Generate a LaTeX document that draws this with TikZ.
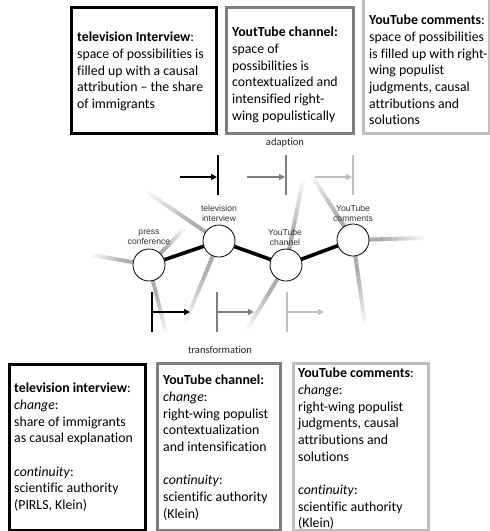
\documentclass[tikz,border=0pt]{standalone}
\usepackage{fontspec}
\setmainfont{Carlito}[Ligatures={TeX,NoCommon}]
\newfontfamily\arialf{Liberation Sans}
\usetikzlibrary{arrows.meta,calc,backgrounds}
\definecolor{cA}{HTML}{000000}
\definecolor{cB}{HTML}{7F7F7F}
\definecolor{cC}{HTML}{BFBFBF}
\definecolor{rayc}{HTML}{ABABAB}
\newcommand\fadeRay[2]{%
  \coordinate (rs) at ($(#1)!15pt!(#2)$);%
  \foreach \k in {0,...,15}{%
    \pgfmathsetmacro\op{min(1,1.25*(1-\k/16))}%
    \pgfmathsetmacro\fa{\k/16}%
    \pgfmathsetmacro\fb{(\k+1)/16}%
    \draw[raystyle, draw opacity=\op] ($(rs)!\fa!(#2)$) -- ($(rs)!\fb!(#2)$);}%
}
\tikzset{
  raystyle/.style={line width=4, rayc, line cap=butt},
  boxA/.style={draw=cA, line width=3, anchor=north west, inner sep=0, minimum width=#1},
  boxB/.style={draw=cB, line width=3, anchor=north west, inner sep=0},
  boxC/.style={draw=cC, line width=2.6, anchor=north west, inner sep=0},
  btext/.style={anchor=north west, inner sep=0, align=left, font=\fontsize{13.8}{16.7}\selectfont},
  station/.style={circle, draw, fill=white, minimum size=32, inner sep=0, line width=0.8},
  slabel/.style={align=center, inner sep=0, text=black!80, font=\arialf\fontsize{8.6}{10}\selectfont},
  flow/.style={line width=3.6, black},
  arrA/.style={line width=2, cA, -{Triangle[length=6,width=6]}},
  arrB/.style={line width=2, cB, -{Triangle[length=6,width=6]}},
  arrC/.style={line width=2, cC, -{Triangle[length=6,width=6]}},
  barA/.style={line width=2, cA},
  barB/.style={line width=2, cB},
  barC/.style={line width=2, cC},
  caption/.style={inner sep=0, text=black!85, font=\fontsize{10.5}{12}\selectfont}
}
\begin{document}
\begin{tikzpicture}[x=1pt,y=-1pt]
\useasboundingbox (0,0) rectangle (490,531);
% top boxes
\node[boxA=145, minimum height=126] (TB1) at (70,6) {};
\node[boxB, minimum width=127, minimum height=126] (TB2) at (225,6) {};
\node[boxC, minimum width=126, minimum height=137] (TB3) at (362,-5) {};
\node[btext] (TT1) at (77,29.8) {\strut\textbf{television Interview}:\\ space of possibilities is\\ filled up with a causal\\ attribution – the share\\ of immigrants};
\node[btext] (TT2) at (232,24.8) {\strut\textbf{YoutTube channel:}\\ space of\\ possibilities is\\ contextualized and\\ intensified right-\\ wing populistically};
\node[btext] (TT3) at (369,12.8) {\strut\textbf{YouTube comments}:\\ space of possibilities\\ is filled up with right-\\ wing populist\\ judgments, causal\\ attributions and\\ solutions};
% captions
\node[caption] (adap) at (285,143) {adaption};
\node[caption] (trans) at (220,350) {transformation};
% stations
\node[station] (pc) at (149,265) {};
\node[station] (tv) at (219,241) {};
\node[station] (yc) at (286,265) {};
\node[station] (ym) at (353,240) {};
% ray ends
\coordinate (r1) at (92,255);
\coordinate (r2) at (184,229);
\coordinate (r3) at (166,333);
\coordinate (r4) at (147,192);
\coordinate (r5) at (185,323);
\coordinate (r6) at (303,180);
\coordinate (r7) at (247,329);
\coordinate (r8) at (312,176);
\coordinate (r9) at (424,238);
\coordinate (r10) at (365,324);
\begin{scope}[on background layer]
\fill[white] (0,0) rectangle (490,531);
\fadeRay{pc}{r1}
\fadeRay{pc}{r2}
\fadeRay{pc}{r3}
\fadeRay{tv}{r4}
\fadeRay{tv}{r5}
\fadeRay{yc}{r6}
\fadeRay{yc}{r7}
\fadeRay{ym}{r8}
\fadeRay{ym}{r9}
\fadeRay{ym}{r10}
\end{scope}
\node[slabel] (pcl) at (149,237) {press\\conference};
\node[slabel] (tvl) at (219,213) {television\\interview};
\node[slabel] (ycl) at (285,237) {YouTube\\channel};
\node[slabel] (yml) at (353,213) {YouTube\\comments};
\draw[flow] (pc) -- (tv);
\draw[flow] (tv) -- (yc);
\draw[flow] (yc) -- (ym);
% top arrows
\coordinate (a1s) at (180,177); \coordinate (a1e) at (217,177);
\coordinate (a1t) at (218,155); \coordinate (a1b) at (218,195);
\coordinate (a2s) at (247,177); \coordinate (a2e) at (285,177);
\coordinate (a2t) at (286,155); \coordinate (a2b) at (286,195);
\coordinate (a3s) at (315,177); \coordinate (a3e) at (352,177);
\coordinate (a3t) at (353,155); \coordinate (a3b) at (353,195);
\draw[barA] (a1t) -- (a1b);
\draw[barB] (a2t) -- (a2b);
\draw[barC] (a3t) -- (a3b);
\draw[arrA] (a1s) -- (a1e);
\draw[arrB] (a2s) -- (a2e);
\draw[arrC] (a3s) -- (a3e);
% bottom arrows
\coordinate (b1t) at (152,292); \coordinate (b1b) at (152,332);
\coordinate (b1s) at (152,312); \coordinate (b1e) at (190,312);
\coordinate (b2t) at (217,292); \coordinate (b2b) at (217,332);
\coordinate (b2s) at (217,312); \coordinate (b2e) at (254,312);
\coordinate (b3t) at (287,292); \coordinate (b3b) at (287,332);
\coordinate (b3s) at (287,312); \coordinate (b3e) at (324,312);
\draw[barA] (b1t) -- (b1b);
\draw[barB] (b2t) -- (b2b);
\draw[barC] (b3t) -- (b3b);
\draw[arrA] (b1s) -- (b1e);
\draw[arrB] (b2s) -- (b2e);
\draw[arrC] (b3s) -- (b3e);
% bottom boxes
\node[boxA=136, minimum height=166] (BB1) at (8,363) {};
\node[boxB, minimum width=123, minimum height=167] (BB2) at (156,362) {};
\node[boxC, minimum width=135, minimum height=167] (BB3) at (292,362) {};
\node[btext] (BT1) at (14,380.8) {\strut\textbf{television interview}:\\ \textit{change}:\\ share of immigrants\\ as causal explanation\\ ~\\ \textit{continuity}:\\ scientific authority\\ (PIRLS, Klein)};
\node[btext] (BT2) at (163,372.8) {\strut\textbf{YouTube channel:}\\ \textit{change}:\\ right-wing populist\\ contextualization\\ and intensification\\ ~\\ \textit{continuity}:\\ scientific authority\\ (Klein)};
\node[btext] (BT3) at (298,365.8) {\strut\textbf{YouTube comments}:\\ \textit{change}:\\ right-wing populist\\ judgments, causal\\ attributions and\\ solutions\\ ~\\ \textit{continuity}:\\ scientific authority\\ (Klein)};
\end{tikzpicture}
\end{document}
